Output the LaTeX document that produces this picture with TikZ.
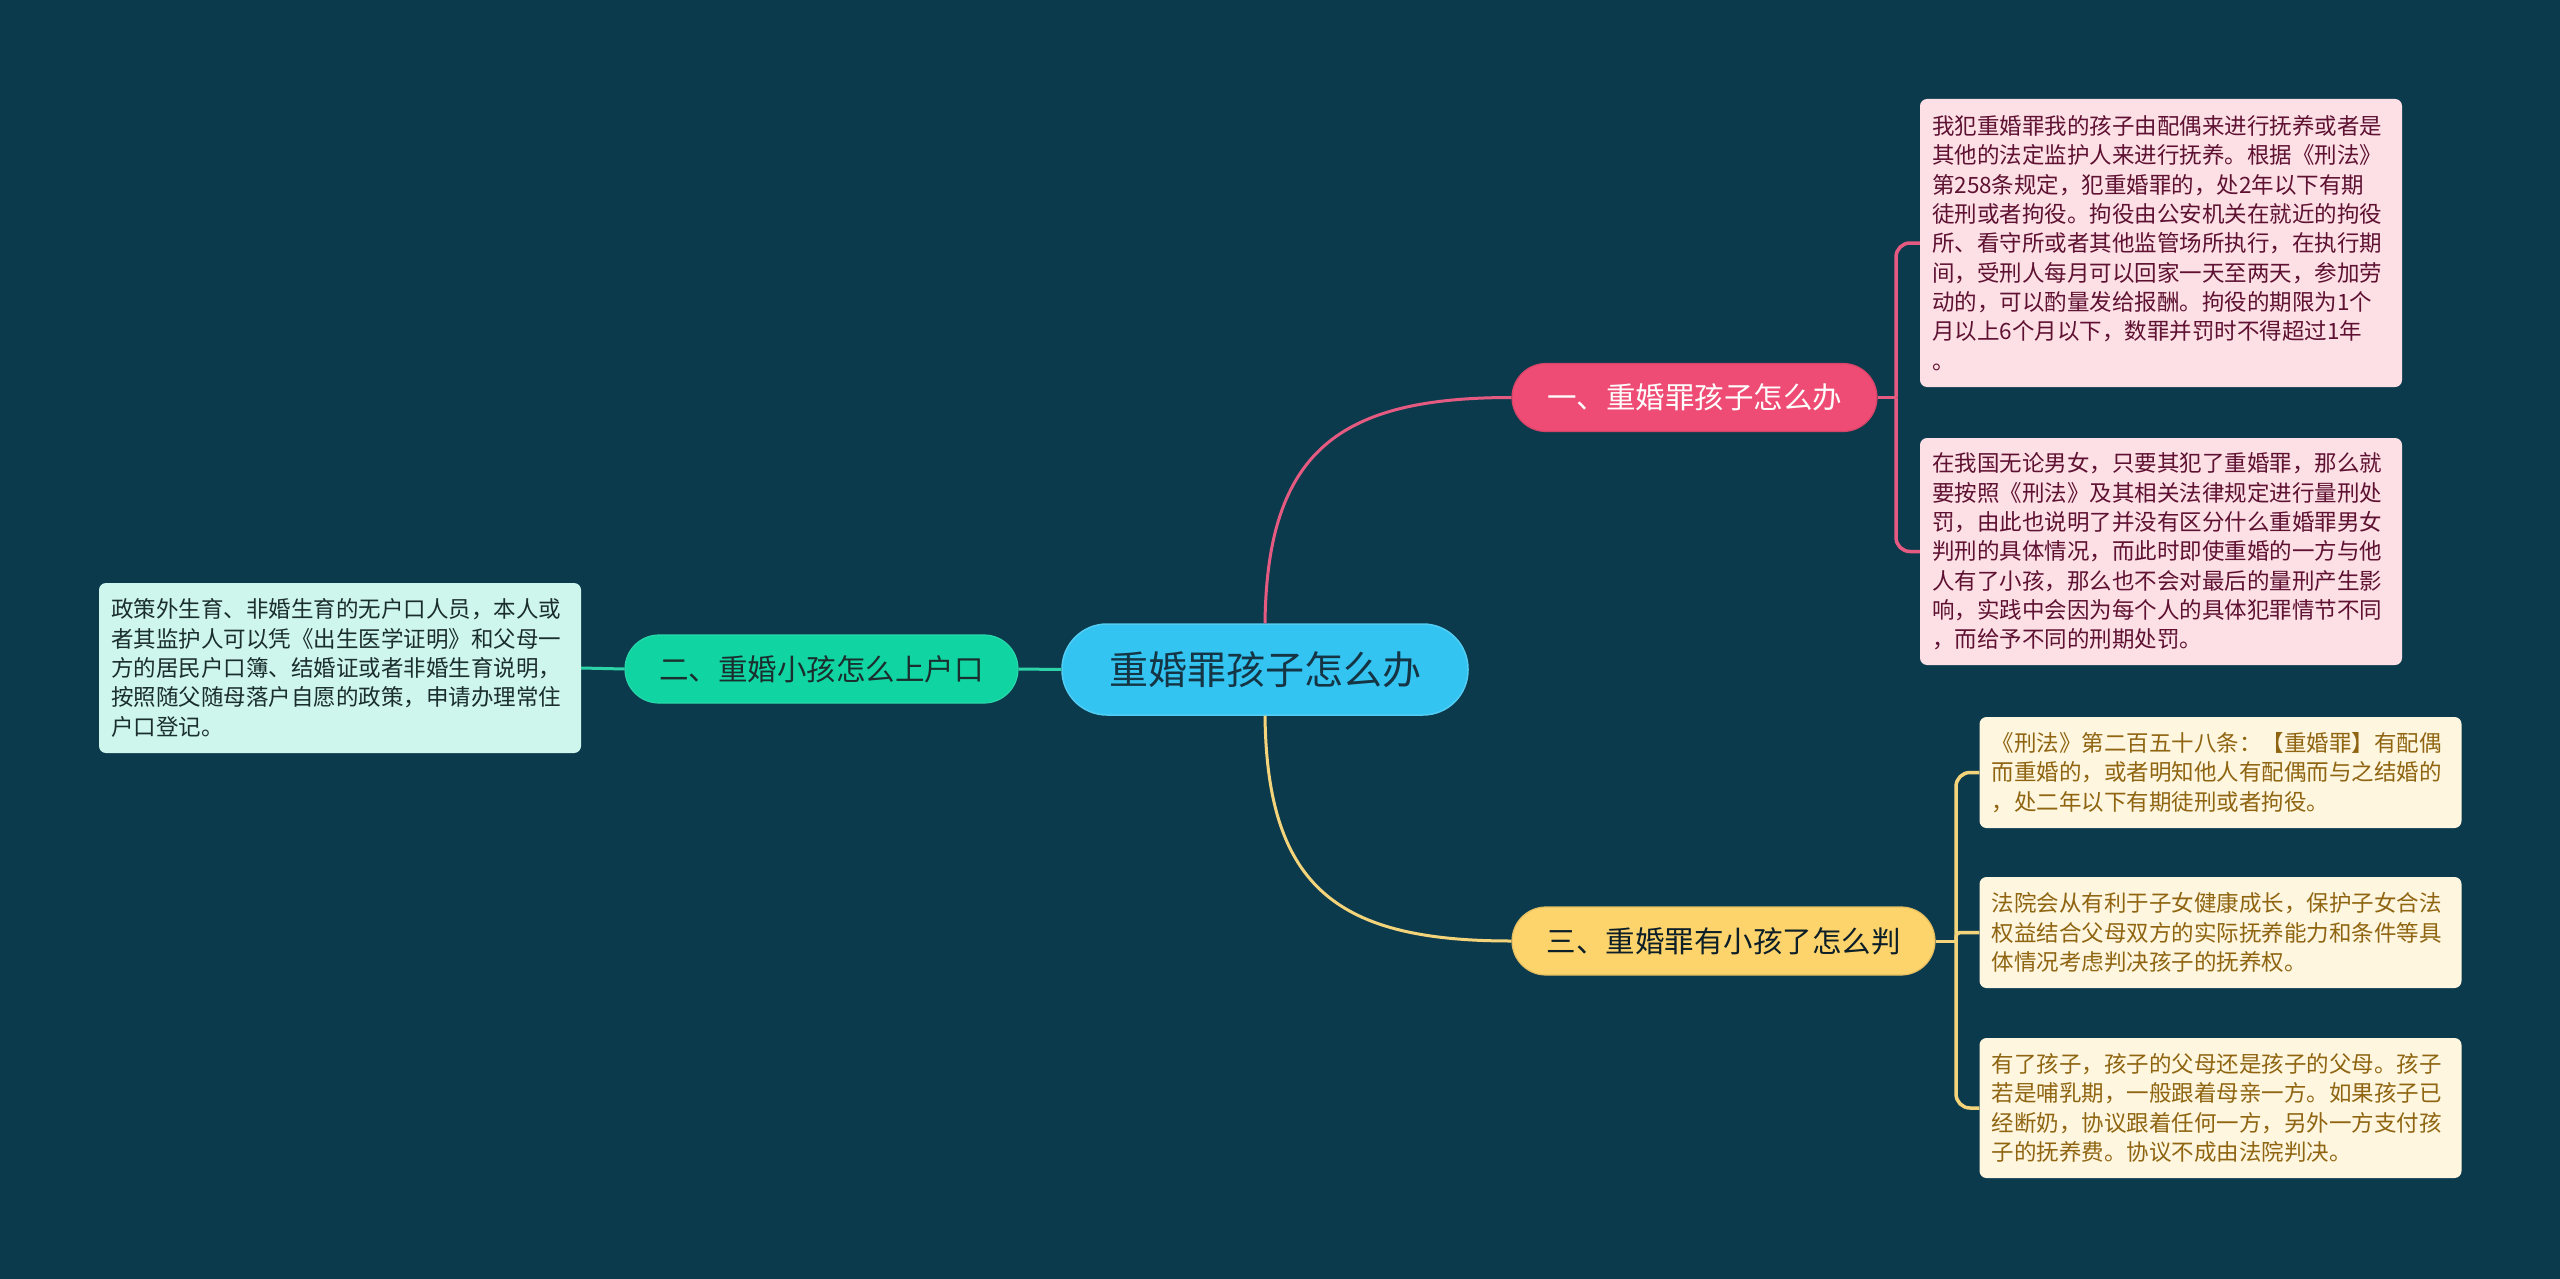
\documentclass[tikz,border=0pt]{standalone}
\usepackage{fontspec}
\setmainfont{Noto Sans CJK SC}
\definecolor{bgc}{HTML}{0C3A4D}
\definecolor{rootc}{HTML}{33C4F2}
\definecolor{roottext}{HTML}{153444}
\definecolor{pinkc}{HTML}{EE4C74}
\definecolor{pinkline}{HTML}{E45A80}
\definecolor{pinkleaf}{HTML}{FDE0E6}
\definecolor{pinktext}{HTML}{5E1131}
\definecolor{greenc}{HTML}{10D4A2}
\definecolor{greenline}{HTML}{2CD3A6}
\definecolor{greenleaf}{HTML}{CEF6EC}
\definecolor{greentext}{HTML}{1B2E2E}
\definecolor{yellowc}{HTML}{FDD36B}
\definecolor{yellowline}{HTML}{F4D47A}
\definecolor{yellowleaf}{HTML}{FEF6DF}
\definecolor{yellowtext}{HTML}{8F6512}
\begin{document}
\begin{tikzpicture}[x=1pt,y=-1pt,
  rootbox/.style={fill=rootc, draw=rootc!85!white, line width=1.5pt, rounded corners=45pt,
    minimum width=406pt, minimum height=91pt, inner sep=0pt,
    font=\fontsize{39}{44}\selectfont, text=roottext},
  branchbox/.style={line width=1.2pt, rounded corners=34pt, minimum height=68pt, inner sep=0pt,
    font=\fontsize{29.5}{34}\selectfont},
  leafbox/.style={rounded corners=7pt, inner xsep=12pt, inner ysep=0pt, text width=458pt,
    align=left, font=\fontsize{22.5}{29.3}\selectfont},
  conn/.style={line width=3pt},
  brk/.style={line width=3.5pt, rounded corners=14pt}
]
\useasboundingbox[fill=bgc] (0,0) rectangle (2560,1279);

% root
\node[rootbox] (root) at (1265,669.5) {重婚罪孩子怎么办};

% branches
\node[branchbox, fill=pinkc, draw=pinkc!90!black, text=white!95!pink, minimum width=365pt] (b1) at (1694.5,397.5) {一、重婚罪孩子怎么办};
\node[branchbox, fill=greenc, draw=greenc!90!white, text=greentext, minimum width=393pt] (b2) at (821.5,669) {二、重婚小孩怎么上户口};
\node[branchbox, fill=yellowc, draw=yellowc!90!black, text=roottext!60!black, minimum width=423pt] (b3) at (1723.5,941) {三、重婚罪有小孩了怎么判};

% leaves
\node[leafbox, fill=pinkleaf, text=pinktext, minimum height=288pt] (l1) at (2161,243) {我犯重婚罪我的孩子由配偶来进行抚养或者是\\其他的法定监护人来进行抚养。根据《刑法》\\第258条规定，犯重婚罪的，处2年以下有期\\徒刑或者拘役。拘役由公安机关在就近的拘役\\所、看守所或者其他监管场所执行，在执行期\\间，受刑人每月可以回家一天至两天，参加劳\\动的，可以酌量发给报酬。拘役的期限为1个\\月以上6个月以下，数罪并罚时不得超过1年\\。};
\node[leafbox, fill=pinkleaf, text=pinktext, minimum height=227pt] (l2) at (2161,551.5) {在我国无论男女，只要其犯了重婚罪，那么就\\要按照《刑法》及其相关法律规定进行量刑处\\罚，由此也说明了并没有区分什么重婚罪男女\\判刑的具体情况，而此时即使重婚的一方与他\\人有了小孩，那么也不会对最后的量刑产生影\\响，实践中会因为每个人的具体犯罪情节不同\\，而给予不同的刑期处罚。};
\node[leafbox, fill=greenleaf, text=greentext, minimum height=170pt] (l6) at (340,668) {政策外生育、非婚生育的无户口人员，本人或\\者其监护人可以凭《出生医学证明》和父母一\\方的居民户口簿、结婚证或者非婚生育说明，\\按照随父随母落户自愿的政策，申请办理常住\\户口登记。};
\node[leafbox, fill=yellowleaf, text=yellowtext, minimum height=111pt] (l3) at (2220.5,772.5) {《刑法》第二百五十八条：【重婚罪】有配偶\\而重婚的，或者明知他人有配偶而与之结婚的\\，处二年以下有期徒刑或者拘役。};
\node[leafbox, fill=yellowleaf, text=yellowtext, minimum height=111pt] (l4) at (2220.5,932.5) {法院会从有利于子女健康成长，保护子女合法\\权益结合父母双方的实际抚养能力和条件等具\\体情况考虑判决孩子的抚养权。};
\node[leafbox, fill=yellowleaf, text=yellowtext, minimum height=140pt] (l5) at (2220.5,1108) {有了孩子，孩子的父母还是孩子的父母。孩子\\若是哺乳期，一般跟着母亲一方。如果孩子已\\经断奶，协议跟着任何一方，另外一方支付孩\\子的抚养费。协议不成由法院判决。};

% root connectors
\draw[conn, pinkline] (root.north) .. controls (1267,450) and (1340,397.5) .. (b1.west);
\draw[conn, yellowline] (root.south) .. controls (1267,890) and (1340,941) .. (b3.west);
\draw[conn, greenline] (root.west) -- (b2.east);
\draw[conn, greenline] (b2.west) -- (l6.east);

% brackets
\coordinate (j1) at (1896,397.5);
\draw[conn, pinkline] (b1.east) -- (j1);
\draw[brk, pinkline] (j1) |- (l1.west);
\draw[brk, pinkline] (j1) |- (l2.west);

\coordinate (j3) at (1956,941);
\draw[conn, yellowline] (b3.east) -- (j3);
\draw[brk, yellowline] (j3) |- (l3.west);
\draw[brk, yellowline, rounded corners=4pt] (j3) |- (l4.west);
\draw[brk, yellowline] (j3) |- (l5.west);
\end{tikzpicture}
\end{document}
